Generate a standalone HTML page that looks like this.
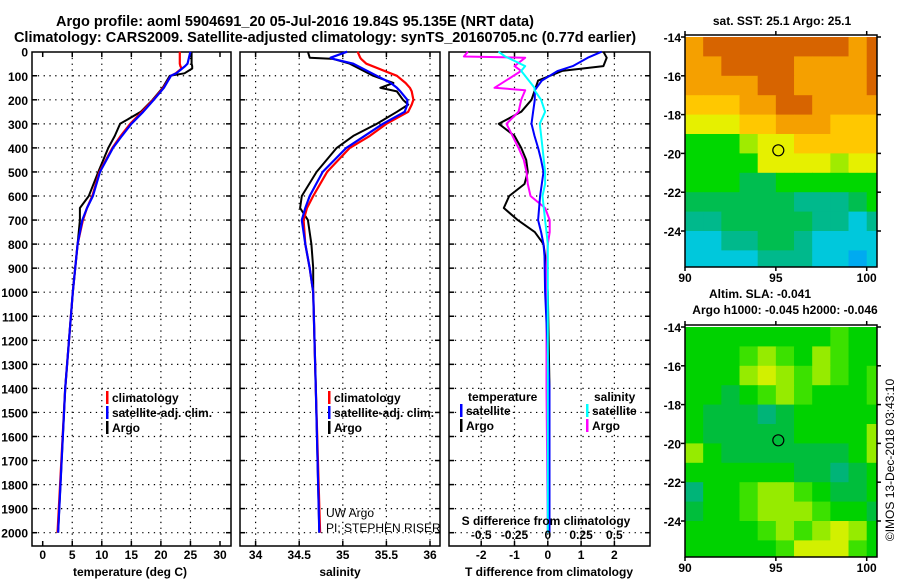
<!DOCTYPE html>
<html><head><meta charset="utf-8"><style>
html,body{margin:0;padding:0;background:#fff;}
svg text{font-family:"Liberation Sans",sans-serif;}
.b{font-weight:bold;}
</style></head><body>
<svg id="s" width="900" height="580" xmlns="http://www.w3.org/2000/svg">
<text class="b" x="295" y="26" font-size="14.5" text-anchor="middle">Argo profile: aoml 5904691_20 05-Jul-2016 19.84S 95.135E (NRT data)</text>
<text class="b" x="325" y="42" font-size="14.5" text-anchor="middle">Climatology: CARS2009. Satellite-adjusted climatology: synTS_20160705.nc (0.77d earlier)</text>
<g id="g"></g>
</svg>
<script>
// ---------- DATA ----------
const tDepth = [0,50,60,70,90,100,150,200,250,300,350,400,500,600,650,700,800,900,1000,1400,2000];
const tClim  = [23.2,23.2,23.3,23.5,22.5,21.7,20.4,18.7,16.8,14.8,13.2,11.8,9.6,8.4,7.5,6.8,5.9,5.5,5.1,3.8,2.5];
const tSat   = [25.0,24.5,24.1,23.6,22.6,21.7,20.5,18.8,17.0,15.0,13.4,11.9,9.7,8.5,7.5,6.7,5.9,5.5,5.1,3.8,2.6];
const tArgo  = [25.2,25.2,25.3,25.3,24.0,21.5,20.3,18.6,16.6,13.1,12.2,11.1,9.4,7.8,6.3,6.3,5.9,5.5,5.1,3.8,2.6];

const sDepth = [0,25,30,50,100,130,150,165,200,220,250,300,350,400,500,600,650,700,800,900,1000,1400,2000];
const sClim  = [35.17,35.2,35.21,35.27,35.62,35.72,35.77,35.79,35.81,35.79,35.75,35.50,35.31,35.08,34.82,34.66,34.59,34.55,34.57,34.62,34.66,34.69,34.74];
const sSat   = [35.05,34.86,34.89,35.12,35.39,35.55,35.62,35.66,35.74,35.74,35.71,35.46,35.25,35.04,34.77,34.62,34.57,34.53,34.57,34.62,34.66,34.69,34.73];
const sArgo  = [34.60,34.62,34.89,35.08,35.35,35.58,35.43,35.62,35.69,35.75,35.62,35.39,35.12,34.93,34.70,34.53,34.51,34.60,34.64,34.66,34.66,34.69,34.73];

const dTDepth = [0,25,60,80,120,160,200,250,300,350,400,450,500,550,600,650,700,750,800,850,1000,1400,2000];
const dTArgo  = [1.67,1.77,1.67,0.43,-0.29,-0.39,-0.49,-0.80,-1.47,-1.00,-0.80,-0.65,-0.60,-0.70,-1.16,-1.32,-0.90,-0.39,-0.13,-0.08,0.0,0.05,0.05];
const dTSat   = [1.62,1.2,0.75,0.3,-0.18,-0.39,-0.39,-0.44,-0.49,-0.40,-0.29,-0.20,-0.13,-0.18,-0.23,-0.26,-0.29,-0.20,-0.13,-0.10,-0.08,0.05,0.05];
const dSDepth = [0,20,25,60,80,150,160,200,250,300,400,450,500,550,600,650,700,750,800,900,1000,1400,2000];
const dSArgo  = [-0.60,-0.63,-0.17,-0.25,-0.20,-0.40,-0.17,-0.20,-0.22,-0.31,-0.22,-0.18,-0.16,-0.15,-0.13,-0.02,0.014,0.014,0.0,-0.01,-0.01,-0.01,0.0];
const dSSat   = [-0.37,-0.32,-0.30,-0.17,-0.20,-0.10,-0.10,-0.05,-0.02,-0.06,-0.04,-0.03,-0.02,-0.02,-0.04,-0.03,-0.02,-0.01,0.0,0.0,0.0,0.0,0.0];

const depthTicks = [0,100,200,300,400,500,600,700,800,900,1000,1100,1200,1300,1400,1500,1600,1700,1800,1900,2000];
const tTicks = [0,5,10,15,20,25,30];
const sTicks = [34,34.5,35,35.5,36];
const dTTicks = [-2,-1,0,1,2];
const dSTicks = [-0.5,-0.25,0,0.25,0.5];
const latTicks = [-14,-16,-18,-20,-22,-24];
const lonTicks = [90,95,100];

const sstColors = ['#00aaf0','#00c8dc','#00b98c','#00be50','#00d700','#a0eb00','#e6f000','#ffc800','#f5a000','#d76400'];
const sstGrid = [
[8,9,9,9,9,9,9,9,9,8,9],
[8,8,9,9,9,9,8,8,8,8,9],
[8,8,8,8,9,9,8,8,8,8,9],
[7,7,7,8,8,9,9,8,8,8,8],
[6,6,6,7,7,8,8,8,7,7,7],
[4,4,4,5,6,6,7,7,7,7,7],
[4,4,4,4,6,6,6,6,5,6,6],
[4,4,4,3,3,4,4,4,4,4,4],
[3,3,3,3,3,3,2,2,2,3,4],
[2,2,3,3,3,3,3,2,2,1,2],
[1,1,2,2,3,3,2,1,1,1,1],
[1,1,1,1,2,2,2,1,1,0,1]];
const slaColors = ['#00b478','#00be3c','#00d200','#3ce100','#96eb00','#d2f000'];
const slaGrid = [
[2,2,2,2,2,2,2,2,3,2,2],
[2,2,2,3,4,3,2,4,3,2,2],
[2,2,2,4,5,4,3,4,3,2,3],
[2,2,1,2,3,4,3,2,2,2,3],
[2,1,1,1,0,1,2,2,2,2,2],
[2,1,1,1,1,1,2,2,2,2,4],
[4,2,1,1,1,1,1,1,1,2,4],
[2,2,2,2,2,2,1,1,0,1,2],
[0,2,2,3,4,4,3,2,1,1,2],
[1,2,2,3,4,4,4,3,2,2,1],
[2,2,2,2,3,4,3,4,5,4,2],
[2,2,2,2,2,3,5,5,5,3,2]];

// ---------- HELPERS ----------
const NS='http://www.w3.org/2000/svg';
const G=document.getElementById('g');
function mk(tag,attrs,parent){const e=document.createElementNS(NS,tag);for(const k in attrs)e.setAttribute(k,attrs[k]);(parent||G).appendChild(e);return e;}
function txt(x,y,s,size,anchor,bold,parent){const e=mk('text',{x:x,y:y,'font-size':size,'text-anchor':anchor||'start','font-weight':bold?'bold':'normal'},parent);e.textContent=s;return e;}
const top0=52, bot=546;
const yD = d => 51.7 + d*0.2405;

function panel(name,x0,x1,xs,ticks,fmt,gridVals){
  const g=mk('g',{});
  
  
  // grid
  gridVals.forEach(v=>{const gl=mk('line',{x1:xs(v),x2:xs(v),y1:top0,y2:bot,stroke:'#000','stroke-width':1.2,'stroke-dasharray':'1.3 4.5'},g);
    });
  depthTicks.forEach(d=>{if(d===0)return;const gl=mk('line',{x1:x0,x2:x1,y1:yD(d),y2:yD(d),stroke:'#000','stroke-width':1.2,'stroke-dasharray':'1.3 4.5'},g);
    
    mk('line',{x1:x0,x2:x0+5,y1:yD(d),y2:yD(d),stroke:'#000','stroke-width':1.5},g);
    mk('line',{x1:x1-5,x2:x1,y1:yD(d),y2:yD(d),stroke:'#000','stroke-width':1.5},g);});
  ticks.forEach(v=>{mk('line',{x1:xs(v),x2:xs(v),y1:bot-5,y2:bot,stroke:'#000','stroke-width':1.5},g);
    mk('line',{x1:xs(v),x2:xs(v),y1:top0,y2:top0+5,stroke:'#000','stroke-width':1.5},g);
    const t=txt(xs(v),559,fmt(v),12,'middle',true,g);
    });
  const fr=mk('rect',{x:x0,y:top0,width:x1-x0,height:bot-top0,fill:'none',stroke:'#000','stroke-width':1.5},g);
  
  return g;
}
function line(g,xs,depths,vals,color,w,name){
  const p=depths.map((d,i)=>xs(vals[i]).toFixed(1)+','+yD(d).toFixed(1)).join(' ');
  const e=mk('polyline',{points:p,fill:'none',stroke:color,'stroke-width':w,'stroke-linejoin':'round'},g);
  
  
}
function legend(g,x,y,color,label,name){
  mk('rect',{x:x,y:y-11,width:2.5,height:13,fill:color},g);
  const t=txt(x+6,y,label,12,'start',true,g);
  
}

// depth axis labels
depthTicks.forEach(d=>{const t=txt(28,yD(d)+5,String(d),12,'end',true);
  });

// ---- Temperature panel ----
const xT=v=>42.7+v*5.91;
const gT=panel('temperature-panel',32,231,xT,tTicks,v=>String(v),[5,10,15,20,25]);
line(gT,xT,tDepth,tArgo,'#000',2,'temp-argo-line');
line(gT,xT,tDepth,tClim,'#f00',2.2,'temp-climatology-line');
line(gT,xT,tDepth,tSat,'#00f',2.2,'temp-satellite-line');
legend(gT,106,402,'#f00','climatology','legend-climatology');
legend(gT,106,417,'#00f','satellite-adj. clim.','legend-satellite');
legend(gT,106,432,'#000','Argo','legend-argo');
let xl=txt(130,576,'temperature (deg C)',12,'middle',true);

// ---- Salinity panel ----
const xS=v=>255.6+(v-34)*87.2;
const gS=panel('salinity-panel',240,440,xS,sTicks,v=>String(v),sTicks);
line(gS,xS,sDepth,sArgo,'#000',2,'sal-argo-line');
line(gS,xS,sDepth,sClim,'#f00',2.2,'sal-climatology-line');
line(gS,xS,sDepth,sSat,'#00f',2.2,'sal-satellite-line');
legend(gS,328,402,'#f00','climatology','legend-climatology');
legend(gS,328,417,'#00f','satellite-adj. clim.','legend-satellite');
legend(gS,328,432,'#000','Argo','legend-argo');
let n1=txt(326,517,'UW Argo',12,'start',false,gS);
let n2=txt(326,532,'PI: STEPHEN RISER',12,'start',false,gS);
xl=txt(340,576,'salinity',12,'middle',true);

// ---- Difference panel ----
const xDT=v=>547.8+v*33.3;
const xDS=v=>547.8+v*133.2;
const gD=panel('difference-panel',449,650,xDT,dTTicks,v=>String(v),dTTicks);
line(gD,xDT,dTDepth,dTArgo,'#000',2,'tdiff-argo-line');
line(gD,xDS,dSDepth,dSArgo,'#f0f',2,'sdiff-argo-line');
line(gD,xDT,dTDepth,dTSat,'#00f',2,'tdiff-satellite-line');
line(gD,xDS,dSDepth,dSSat,'#0ff',2,'sdiff-satellite-line');
let lt=txt(468,401,'temperature',12,'start',true,gD);
let ls=txt(594,401,'salinity',12,'start',true,gD);
legend(gD,460,415,'#00f','satellite','legend-t-satellite');
legend(gD,460,430,'#000','Argo','legend-t-argo');
legend(gD,586,415,'#0ff','satellite','legend-s-satellite');
legend(gD,586,430,'#f0f','Argo','legend-s-argo');
let st=txt(546,525,'S difference from climatology',12,'middle',true,gD);
dSTicks.forEach(v=>{const t=txt(xDS(v),539,String(v).replace('0.','.').replace('-.','-0.').replace(/^\./,'0.'),12,'middle',true,gD);
  });
xl=txt(549,576,'T difference from climatology',12,'middle',true);

// ---- Maps ----
const mx0=685, mx1=877;
const xLon=v=>685+(v-90)*18.17;
function map(name,y0,grid,colors,title1,title2){
  const y1=y0+232;
  const yLat=v=>y0+2+(-14-v)*19.4;
  const g=mk('g',{});
  
  
  grid.forEach((row,r)=>row.forEach((c,k)=>{
    const xa=Math.max(mx0,xLon(90+k)), xb=Math.min(mx1,xLon(91+k));
    const ya=Math.max(y0,yLat(-14-r)), yb=Math.min(y1,yLat(-15-r));
    if(r===grid.length-1) yb2=y1;
    const cell=mk('rect',{x:xa,y:ya,width:xb-xa+0.5,height:(r===grid.length-1?y1-ya:yb-ya)+0.5,fill:colors[c]},g);
    
    
  }));
  const fr=mk('rect',{x:mx0,y:y0,width:mx1-mx0,height:y1-y0,fill:'none',stroke:'#000','stroke-width':1.5},g);
  
  latTicks.forEach(v=>{mk('line',{x1:mx0-4,x2:mx0,y1:yLat(v),y2:yLat(v),stroke:'#000','stroke-width':1.5},g);
    mk('line',{x1:mx1,x2:mx1+4,y1:yLat(v),y2:yLat(v),stroke:'#000','stroke-width':1.5},g);
    const t=txt(681,yLat(v)+5,String(v),12,'end',true,g);});
  lonTicks.forEach(v=>{mk('line',{x1:xLon(v),x2:xLon(v),y1:y1,y2:y1+4,stroke:'#000','stroke-width':1.5},g);
    mk('line',{x1:xLon(v),x2:xLon(v),y1:y0-4,y2:y0,stroke:'#000','stroke-width':1.5},g);
    const t=txt(xLon(v),y1+15,String(v),12,'middle',true,g);});
  const c=mk('circle',{cx:xLon(95.135),cy:yLat(-19.84),r:5.5,fill:'none',stroke:'#000','stroke-width':1.2},g);
  
  let t1=txt(title2?760:782,title2?y0-27:y0-10,title1,12,'middle',true,g);
  if(title2){let t2=txt(785,y0-11,title2,12,'middle',true,g);}
}
let yb2;
map('sst-map',35,sstGrid,sstColors,'sat. SST: 25.1 Argo: 25.1');
map('sla-map',325,slaGrid,slaColors,'Altim. SLA: -0.041','Argo h1000: -0.045 h2000: -0.046');
const cp=txt(0,0,'©IMOS 13-Dec-2018 03:43:10',12,'middle',false);
cp.setAttribute('transform','translate(894,460) rotate(-90)');

</script>
</body></html>
